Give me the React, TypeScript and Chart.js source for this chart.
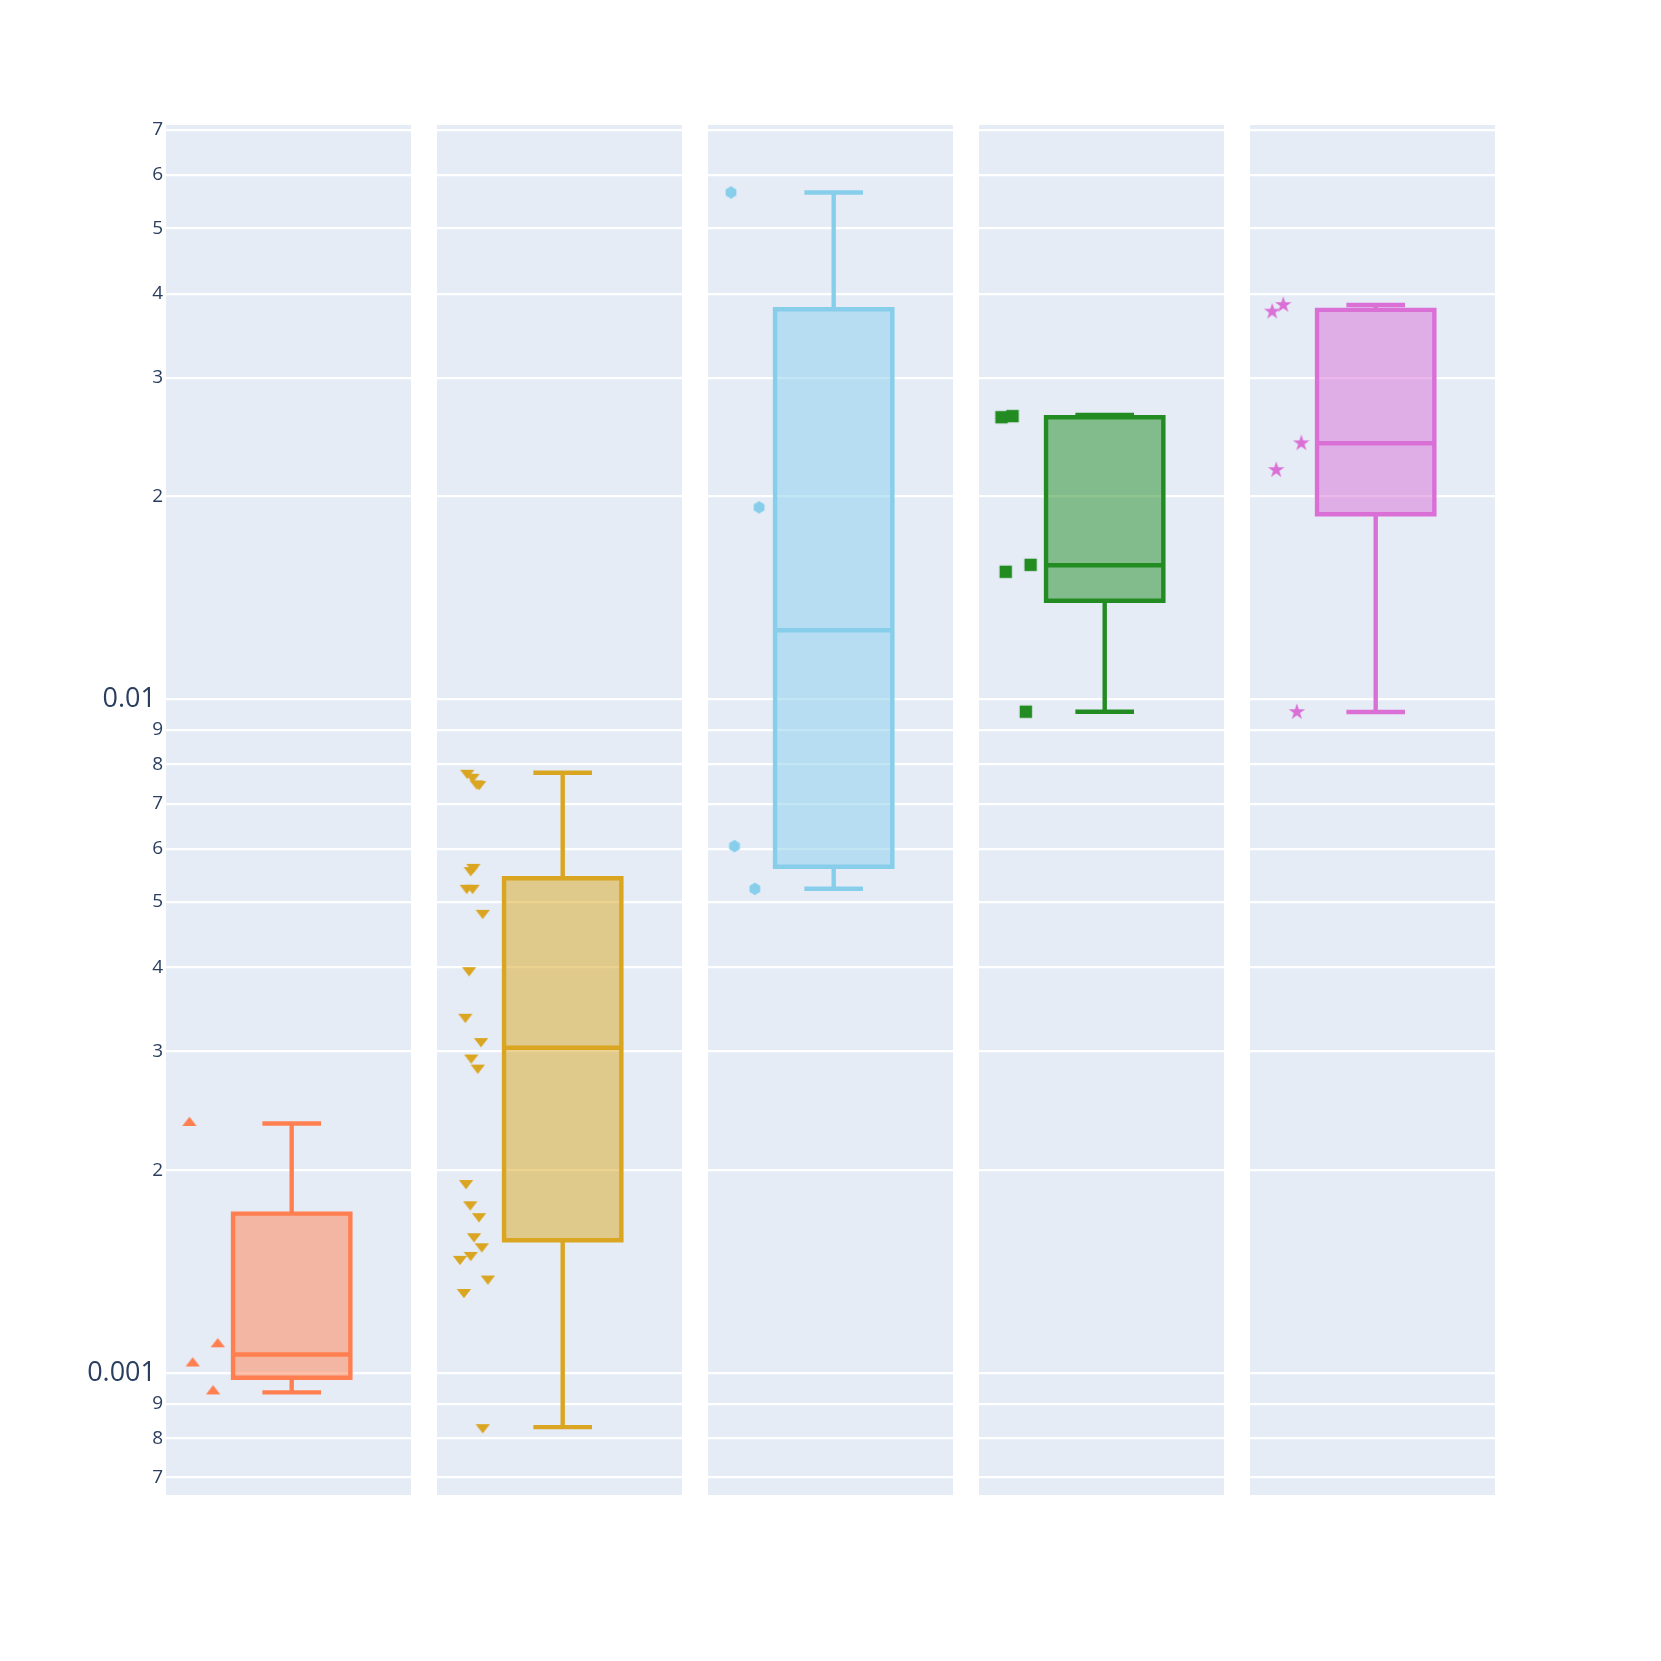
import React, { useEffect, useRef } from 'react';
import { Chart, registerables } from 'chart.js';

Chart.register(...registerables);

// ---------------- data ----------------
const seriesNames = ['s1', 's2', 's3', 's4', 's5'];
const seriesColors = ['#FF7F50', '#DAA520', '#87CEEB', '#228B22', '#DA70D6'];
const seriesMarkers = ['triangle-up', 'triangle-down', 'hexagon', 'square', 'star'];

const upperFence = [0.002346, 0.007778, 0.05652, 0.02642, 0.03848];
const q3Values = [0.001724, 0.005425, 0.03793, 0.02622, 0.03784];
const medianValues = [0.001065, 0.003039, 0.01266, 0.01581, 0.02399];
const q1Values = [0.000984, 0.001574, 0.00564, 0.014, 0.01882];
const lowerFence = [0.000936, 0.000831, 0.005233, 0.009582, 0.009572];

const s1Y = [0.00235, 0.001103, 0.001033, 0.000939];
const s1X = [-0.436, -0.315, -0.422, -0.335];

const s2Y = [
  0.007778, 0.007673, 0.007502, 0.007484, 0.00564, 0.005577, 0.00525, 0.00525,
  0.004819, 0.003962, 0.003378, 0.003109, 0.002939, 0.00284, 0.001914, 0.00178,
  0.001709, 0.001596, 0.001542, 0.001497, 0.001477, 0.001381, 0.001319, 0.000831,
];
const s2X = [
  -0.407, -0.384, -0.367, -0.356, -0.381, -0.392, -0.409, -0.384,
  -0.341, -0.399, -0.415, -0.348, -0.39, -0.362, -0.412, -0.394,
  -0.357, -0.378, -0.345, -0.392, -0.438, -0.319, -0.421, -0.341,
];

const s3Y = [0.05652, 0.01927, 0.006053, 0.005231];
const s3X = [-0.438, -0.318, -0.423, -0.336];

const s4Y = [0.02622, 0.02632, 0.01546, 0.01583, 0.009582];
const s4X = [-0.44, -0.393, -0.422, -0.316, -0.336];

const s5Y = [0.03762, 0.03848, 0.02399, 0.02189, 0.009572];
const s5X = [-0.441, -0.394, -0.317, -0.424, -0.336];

const pointsY = [s1Y, s2Y, s3Y, s4Y, s5Y];
const pointsX = [s1X, s2X, s3X, s4X, s5X];

const yTickValues = [
  0.0007, 0.0008, 0.0009, 0.001, 0.002, 0.003, 0.004, 0.005, 0.006, 0.007, 0.008, 0.009,
  0.01, 0.02, 0.03, 0.04, 0.05, 0.06, 0.07,
];
const yTickLabels = [
  '7', '8', '9', '0.001', '2', '3', '4', '5', '6', '7', '8', '9',
  '0.01', '2', '3', '4', '5', '6', '7',
];
const yMajorTicks = [0.001, 0.01];

const Y_MIN = 0.000659;
const Y_MAX = 0.07118;

// ---------------- layout / style ----------------
const FIG = 1661;
const PANEL_LEFTS = [166, 437, 708, 979, 1250];
const PANEL_W = 245;
const PLOT_TOP = 125;
const PLOT_BOTTOM_PAD = 166;
const X_MIN = -0.5358;
const X_MAX = 0.5085;
const BOX_HALF = 0.25;
const CAP_HALF = 0.125;
const LINE_W = 4.4;
const TEXT_COLOR = '#2a3f5f';
const PLOT_BG = '#E5ECF6';

function hexToRgba(hex: string, a: number) {
  const n = parseInt(hex.slice(1), 16);
  return `rgba(${(n >> 16) & 255},${(n >> 8) & 255},${n & 255},${a})`;
}

function makeMarker(shape: string, color: string): HTMLCanvasElement {
  const c = document.createElement('canvas');
  c.width = 24;
  c.height = 24;
  const g = c.getContext('2d')!;
  g.translate(12, 12);
  g.fillStyle = color;
  const r = 6.2;
  const s3 = Math.sqrt(3);
  g.beginPath();
  if (shape === 'triangle-up') {
    const rt = (r * 2) / s3;
    g.moveTo(-rt, r / 2);
    g.lineTo(rt, r / 2);
    g.lineTo(0, -r);
  } else if (shape === 'triangle-down') {
    const rt = (r * 2) / s3;
    g.moveTo(-rt, -r / 2);
    g.lineTo(rt, -r / 2);
    g.lineTo(0, r);
  } else if (shape === 'square') {
    g.rect(-r, -r, 2 * r, 2 * r);
  } else if (shape === 'hexagon') {
    const rA = r / 2;
    const rB = (r * s3) / 2;
    g.moveTo(rB, -rA);
    g.lineTo(rB, rA);
    g.lineTo(0, r);
    g.lineTo(-rB, rA);
    g.lineTo(-rB, -rA);
    g.lineTo(0, -r);
  } else {
    const rs = r * 1.4;
    const x1 = rs * 0.225, x2 = rs * 0.951, x3 = rs * 0.363, x4 = rs * 0.588;
    const y1 = -rs, y2 = rs * -0.309, y3 = rs * 0.118, y4 = rs * 0.809, y5 = rs * 0.382;
    g.moveTo(x1, y2);
    g.lineTo(x2, y2);
    g.lineTo(x3, y3);
    g.lineTo(x4, y4);
    g.lineTo(0, y5);
    g.lineTo(-x4, y4);
    g.lineTo(-x3, y3);
    g.lineTo(-x2, y2);
    g.lineTo(-x1, y2);
    g.lineTo(0, y1);
  }
  g.closePath();
  g.fill();
  return c;
}

function Panel({ idx }: { idx: number }) {
  const ref = useRef<HTMLCanvasElement>(null);
  const first = idx === 0;
  const left = first ? 0 : PANEL_LEFTS[idx];
  const width = first ? PANEL_LEFTS[0] + PANEL_W : PANEL_W;

  useEffect(() => {
    if (!ref.current) return;
    const color = seriesColors[idx];
    const marker = makeMarker(seriesMarkers[idx], color);

    const bgPlugin = {
      id: 'plotBg' + idx,
      beforeDraw(chart: any) {
        const { ctx, chartArea } = chart;
        ctx.save();
        ctx.fillStyle = PLOT_BG;
        ctx.fillRect(chartArea.left, chartArea.top, chartArea.right - chartArea.left, chartArea.bottom - chartArea.top);
        ctx.restore();
      },
    };

    const boxPlugin = {
      id: 'boxDraw' + idx,
      beforeDatasetsDraw(chart: any) {
        const { ctx } = chart;
        const xs = chart.scales.x;
        const ys = chart.scales.y;
        const xl = xs.getPixelForValue(-BOX_HALF);
        const xr = xs.getPixelForValue(BOX_HALF);
        const xc = xs.getPixelForValue(0);
        const cl = xs.getPixelForValue(-CAP_HALF);
        const cr = xs.getPixelForValue(CAP_HALF);
        const pUp = ys.getPixelForValue(upperFence[idx]);
        const pQ3 = ys.getPixelForValue(q3Values[idx]);
        const pMed = ys.getPixelForValue(medianValues[idx]);
        const pQ1 = ys.getPixelForValue(q1Values[idx]);
        const pLo = ys.getPixelForValue(lowerFence[idx]);
        ctx.save();
        ctx.fillStyle = hexToRgba(color, 0.5);
        ctx.fillRect(xl, pQ3, xr - xl, pQ1 - pQ3);
        ctx.strokeStyle = color;
        ctx.lineWidth = LINE_W;
        ctx.lineJoin = 'miter';
        ctx.lineCap = 'butt';
        ctx.beginPath();
        ctx.rect(xl, pQ3, xr - xl, pQ1 - pQ3);
        ctx.moveTo(xl, pMed);
        ctx.lineTo(xr, pMed);
        ctx.moveTo(xc, pQ3);
        ctx.lineTo(xc, pUp);
        ctx.moveTo(cl, pUp);
        ctx.lineTo(cr, pUp);
        ctx.moveTo(xc, pQ1);
        ctx.lineTo(xc, pLo);
        ctx.moveTo(cl, pLo);
        ctx.lineTo(cr, pLo);
        ctx.stroke();
        ctx.restore();
      },
    };

    const data = pointsX[idx].map((x, i) => ({ x, y: pointsY[idx][i] }));

    const chart = new Chart(ref.current, {
      type: 'scatter',
      data: {
        datasets: [
          {
            label: seriesNames[idx],
            data,
            pointStyle: marker as any,
            pointRadius: 6,
            backgroundColor: color,
            borderColor: color,
            showLine: false,
          },
        ],
      },
      options: {
        animation: false,
        responsive: false,
        events: [],
        layout: { autoPadding: false, padding: { top: PLOT_TOP, bottom: PLOT_BOTTOM_PAD, left: 0, right: 0 } },
        plugins: { legend: { display: false }, tooltip: { enabled: false } },
        scales: {
          x: { type: 'linear', min: X_MIN, max: X_MAX, display: false },
          y: {
            type: 'logarithmic',
            min: Y_MIN,
            max: Y_MAX,
            afterBuildTicks: (s: any) => {
              s.ticks = yTickValues.map((v) => ({ value: v }));
            },
            afterFit: (s: any) => {
              s.width = first ? PANEL_LEFTS[0] : 0;
            },
            grid: { color: '#ffffff', lineWidth: 2.2, drawTicks: false },
            border: { display: false },
            ticks: {
              display: first,
              autoSkip: false,
              padding: 3,
              color: TEXT_COLOR,
              font: (ctx: any) => {
                const v = ctx.tick ? ctx.tick.value : 0;
                const major = yMajorTicks.some((m) => Math.abs(m - v) < m * 1e-6);
                return { family: "'Open Sans', sans-serif", size: major ? 27 : 19 };
              },
              callback: (_v: any, i: number) => {
                const lbl = yTickLabels[i];
                return lbl && lbl.length > 1 ? lbl + ' ' : lbl;
              },
            },
          },
        },
      } as any,
      plugins: [bgPlugin, boxPlugin],
    });
    return () => chart.destroy();
  }, []);

  return (
    <div style={{ position: 'absolute', left, top: 0, width, height: FIG }}>
      <canvas ref={ref} width={width} height={FIG} style={{ display: 'block' }} />
    </div>
  );
}

export default function App() {
  return (
    <div style={{ position: 'absolute', left: 0, top: 0, width: FIG, height: FIG, background: '#ffffff' }}>
      {seriesNames.map((_, i) => (
        <Panel key={i} idx={i} />
      ))}
    </div>
  );
}
